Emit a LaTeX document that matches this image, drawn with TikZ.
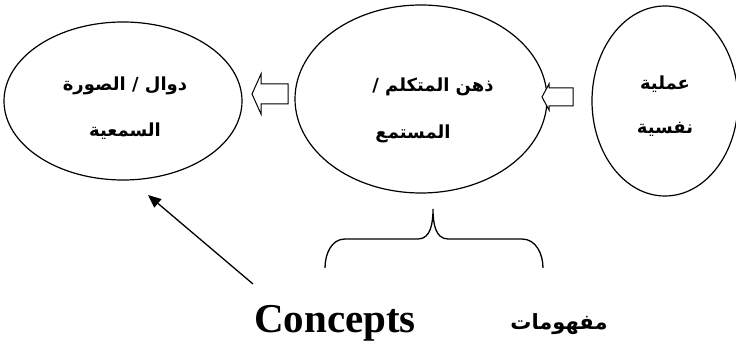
\documentclass[tikz,border=0pt]{standalone}
\usepackage{fontspec}
\setmainfont{Liberation Serif}
\newfontfamily\arabicfont[Script=Arabic]{DejaVu Sans}
\TeXXeTstate=1
\usetikzlibrary{arrows.meta,shapes.geometric}
\tikzset{
  oval/.style={draw, line width=1.2pt, ellipse, inner sep=0pt},
  artext/.style={font=\arabicfont\bfseries\fontsize{18}{22}\selectfont, inner sep=0pt},
  hollow/.style={draw, line width=1pt, line join=miter, fill=white},
  thinline/.style={line width=1.3pt},
}
\begin{document}
\begin{tikzpicture}[x=1pt,y=1pt]
\useasboundingbox (0,0) rectangle (736,342);

% three ovals
\node[oval, minimum width=238pt, minimum height=158pt] (sound) at (123,241) {};
\node[oval, minimum width=252pt, minimum height=188pt] (mind)  at (421,243) {};
\node[oval, minimum width=146pt, minimum height=190pt] (proc)  at (665,241) {};

% labels inside the ovals
\node[artext] (sound1) at (125,256) {\beginR دوال / الصورة\endR};
\node[artext] (sound2) at (125,211) {\beginR السمعية\endR};
\node[artext] (mind1)  at (433,255) {\beginR ذهن المتكلم /\endR};
\node[artext] (mind2)  at (413,208) {\beginR المستمع\endR};
\node[artext] (proc1)  at (665,258) {\beginR عملية\endR};
\node[artext] (proc2)  at (665,213) {\beginR نفسية\endR};

% hollow block arrows pointing left
\draw[hollow] (252,248) -- (261,268) -- (261,258) -- (288,258) -- (288,238)
  -- (261,238) -- (261,228) -- cycle;
\draw[hollow] (542,245) -- (549,258) -- (549,254) -- (573,254) -- (573,236)
  -- (549,236) -- (549,232) -- cycle;

% brace under the middle oval
\coordinate (bl) at (325,74);
\coordinate (br) at (543,74);
\coordinate (btip) at (433,133);
\draw[thinline] (bl) to[out=90,in=180] (345,103) -- (418,103)
  to[out=0,in=-90] (btip) to[out=-90,in=180] (448,103) -- (522,103)
  to[out=0,in=90] (br);

% bottom labels
\node[font=\bfseries\fontsize{41}{46}\selectfont,
      anchor=base, inner sep=0pt] (concepts) at (335,9) {Concepts};
\node[font=\arabicfont\bfseries\fontsize{21}{25}\selectfont, inner sep=0pt,
      anchor=base] (mafahim) at (559,12) {\beginR مفهومات\endR};

% pointer from the labels to the left oval
\coordinate (ptail) at (253,58);
\coordinate (phead) at (148,147);
\draw[thinline, -{Triangle[length=13pt,width=11pt]}] (ptail) -- (phead);
\end{tikzpicture}
\end{document}
